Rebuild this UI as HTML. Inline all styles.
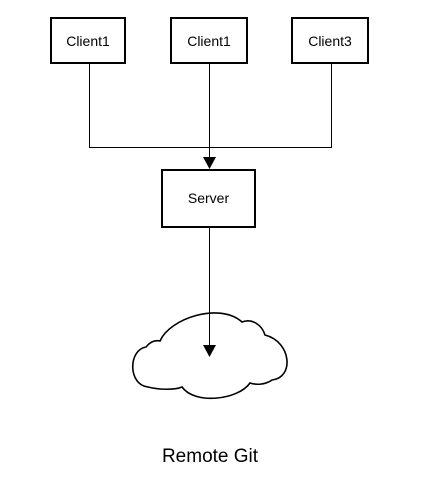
<!DOCTYPE html>
<html><head><style>
html,body{margin:0;padding:0;background:#fff;}
svg{display:block;}
text{font-family:"Liberation Sans",sans-serif;}
</style></head><body>
<svg width="439" height="482" viewBox="0 0 439 482" xmlns="http://www.w3.org/2000/svg">
<g fill="#fff" stroke="#000" stroke-width="2">
<rect x="51" y="18" width="74" height="45"/>
<rect x="171" y="18" width="76" height="45"/>
<rect x="292" y="18" width="76" height="45"/>
<rect x="162" y="170" width="93" height="57"/>
</g>
<g stroke="#000" stroke-width="1" fill="none">
<path d="M89.5 63 V147.5 H331.5 V63"/>
<path d="M209.5 63 V158"/>
<path d="M209.5 227 V346"/>
</g>
<path d="M203 157 L216 157 L209.5 169 Z" fill="#000"/>
<path d="M148 387 C128 385 128 350 146 347 C150 342 155 340 160 341 C170 318 220 302 242 322 C252 318 262 325 265 335 C292 342 294 378 272 380 C265 385 256 385 250 383 C238 400 195 405 182 387 C175 390 160 390 148 387 Z" fill="#fff" stroke="#000" stroke-width="1.6"/>
<path d="M209.5 300 V346" stroke="#000" stroke-width="1"/>
<path d="M203 345 L216 345 L209.5 357 Z" fill="#000"/>
<g font-size="14" text-anchor="middle" fill="#000">
<text x="88" y="46">Client1</text>
<text x="209" y="46">Client1</text>
<text x="330" y="46">Client3</text>
<text x="208.5" y="203">Server</text>
</g>
<text x="210" y="462" font-size="19" text-anchor="middle" fill="#000">Remote Git</text>
</svg>
</body></html>
